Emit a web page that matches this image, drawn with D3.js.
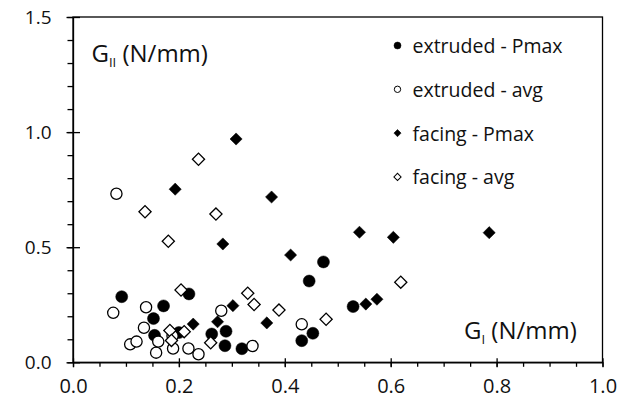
<!DOCTYPE html>
<html>
<head>
<meta charset="utf-8">
<script src="https://cdn.jsdelivr.net/npm/d3@7"></script>
<style>
  body { margin: 0; background: #fff; }
  text { font-family: "Open Sans", "Noto Sans", sans-serif; fill: #111; }
</style>
</head>
<body>
<div class="chart"></div>
<script>
// data
var extPmaxX = [0.092, 0.171, 0.152, 0.154, 0.200, 0.219, 0.262, 0.289, 0.287, 0.319, 0.446, 0.432, 0.453, 0.473, 0.529];
var extPmaxY = [0.285, 0.245, 0.190, 0.117, 0.129, 0.297, 0.123, 0.135, 0.072, 0.059, 0.353, 0.094, 0.126, 0.436, 0.242];

var extAvgX = [0.082, 0.076, 0.138, 0.134, 0.108, 0.120, 0.157, 0.161, 0.189, 0.218, 0.237, 0.280, 0.339, 0.432, 0.188];
var extAvgY = [0.732, 0.215, 0.239, 0.150, 0.078, 0.090, 0.042, 0.090, 0.060, 0.060, 0.035, 0.224, 0.071, 0.165, 0.114];

var facPmaxX = [0.193, 0.308, 0.375, 0.283, 0.411, 0.302, 0.273, 0.227, 0.366, 0.541, 0.605, 0.786, 0.553, 0.574];
var facPmaxY = [0.752, 0.970, 0.718, 0.514, 0.466, 0.246, 0.176, 0.166, 0.171, 0.565, 0.543, 0.563, 0.253, 0.274];

var facAvgX = [0.237, 0.136, 0.270, 0.180, 0.204, 0.330, 0.342, 0.389, 0.260, 0.183, 0.210, 0.186, 0.619, 0.478];
var facAvgY = [0.882, 0.654, 0.644, 0.526, 0.314, 0.300, 0.251, 0.227, 0.085, 0.138, 0.133, 0.095, 0.348, 0.187];

var seriesNames = ["extruded - Pmax", "extruded - avg", "facing - Pmax", "facing - avg"];
var xTicks = [0, 0.2, 0.4, 0.6, 0.8, 1.0];
var yTicks = [0, 0.5, 1.0, 1.5];

// zip up the series
function pts(xs, ys) { return xs.map((x, i) => ({x: x, y: ys[i]})); }
var series = [
  {name: seriesNames[0], shape: "circle", filled: true, data: pts(extPmaxX, extPmaxY)},
  {name: seriesNames[1], shape: "circle", filled: false, data: pts(extAvgX, extAvgY)},
  {name: seriesNames[2], shape: "diamond", filled: true, data: pts(facPmaxX, facPmaxY)},
  {name: seriesNames[3], shape: "diamond", filled: false, data: pts(facAvgX, facAvgY)}
];

var svgWidth = 622, svgHeight = 403;
var margin = {top: 17, right: 19.5, bottom: 40.7, left: 73};
var width = svgWidth - margin.left - margin.right;
var height = svgHeight - margin.top - margin.bottom;

var svg = d3.select(".chart").append("svg")
  .attr("width", svgWidth)
  .attr("height", svgHeight);

var chartGroup = svg.append("g")
  .attr("transform", `translate(${margin.left}, ${margin.top})`);

var xScale = d3.scaleLinear().domain([0, 1]).range([0, width]);
var yScale = d3.scaleLinear().domain([0, 1.5]).range([height, 0]);

// frame (top + right)
chartGroup.append("rect")
  .attr("width", width).attr("height", height)
  .attr("fill", "none").attr("stroke", "#000").attr("stroke-width", 1.3);

// minor ticks
chartGroup.append("g")
  .attr("transform", `translate(0, ${height})`)
  .call(d3.axisBottom(xScale).tickValues(d3.range(0, 1.001, 0.05)).tickSize(4.5).tickFormat(""))
  .call(g => g.select(".domain").remove());
chartGroup.append("g")
  .call(d3.axisLeft(yScale).tickValues(d3.range(0, 1.501, 0.1)).tickSize(5.5).tickFormat(""))
  .call(g => g.select(".domain").remove());

// major axes
var bottomAxis = d3.axisBottom(xScale).tickValues(xTicks).tickSize(5).tickSizeOuter(0)
  .tickPadding(12).tickFormat(d3.format(".1f"));
var leftAxis = d3.axisLeft(yScale).tickValues(yTicks).tickSize(6.5).tickSizeOuter(0)
  .tickPadding(15).tickFormat(d3.format(".1f"));

var xg = chartGroup.append("g")
  .attr("transform", `translate(0, ${height})`)
  .call(bottomAxis);
xg.selectAll(".tick line").attr("y1", -4);
xg.selectAll("text").attr("font-size", "20px").attr("font-family", "'Open Sans', sans-serif").attr("fill", "#111");

var yg = chartGroup.append("g").call(leftAxis);
yg.selectAll(".tick line").attr("x1", 7);
yg.selectAll("text").attr("font-size", "19px").attr("font-family", "'Open Sans', sans-serif").attr("fill", "#111");

chartGroup.selectAll(".domain, .tick line").attr("stroke", "#000").attr("stroke-width", 1.3);

// markers
var diamond = d3.symbol().type(d3.symbolSquare).size(74);
var diamondSmall = d3.symbol().type(d3.symbolSquare).size(26);

series.forEach(function(s) {
  var g = chartGroup.append("g");
  var marks;
  if (s.shape == "circle") {
    marks = g.selectAll("circle").data(s.data).enter().append("circle")
      .attr("cx", d => xScale(d.x))
      .attr("cy", d => yScale(d.y))
      .attr("r", s.filled ? 6 : 5.6);
  } else {
    marks = g.selectAll("path").data(s.data).enter().append("path")
      .attr("d", diamond)
      .attr("transform", d => `translate(${xScale(d.x)}, ${yScale(d.y)}) rotate(45)`);
  }
  marks.attr("fill", s.filled ? "#000" : "#fff")
    .attr("stroke", "#000")
    .attr("stroke-width", s.filled ? 0.5 : 1.3);
});

// legend
var legend = svg.append("g").attr("transform", "translate(397.5, 45.5)");
series.forEach(function(s, i) {
  var row = legend.append("g").attr("transform", `translate(0, ${i * 43.8})`);
  if (s.shape == "circle") {
    row.append("circle").attr("r", s.filled ? 3.5 : 3.2);
  } else {
    row.append("path").attr("d", diamondSmall).attr("transform", "rotate(45)");
  }
  row.selectAll("circle, path")
    .attr("fill", s.filled ? "#000" : "#fff")
    .attr("stroke", "#000")
    .attr("stroke-width", s.filled ? 0.5 : 1);
  row.append("text")
    .attr("x", 15).attr("y", 7.5)
    .attr("font-size", "19.5px")
    .text(s.name);
});

// axis titles inside the plot
var gII = svg.append("text").attr("x", 91.5).attr("y", 62).attr("font-size", "24px");
gII.append("tspan").text("G");
gII.append("tspan").attr("font-size", "13px").attr("dy", 5).text("II");
gII.append("tspan").attr("dy", -5).text(" (N/mm)");

var gI = svg.append("text").attr("x", 464).attr("y", 338.5).attr("font-size", "24px");
gI.append("tspan").text("G");
gI.append("tspan").attr("font-size", "13px").attr("dy", 5).text("I");
gI.append("tspan").attr("dy", -5).text(" (N/mm)");
</script>
</body>
</html>
